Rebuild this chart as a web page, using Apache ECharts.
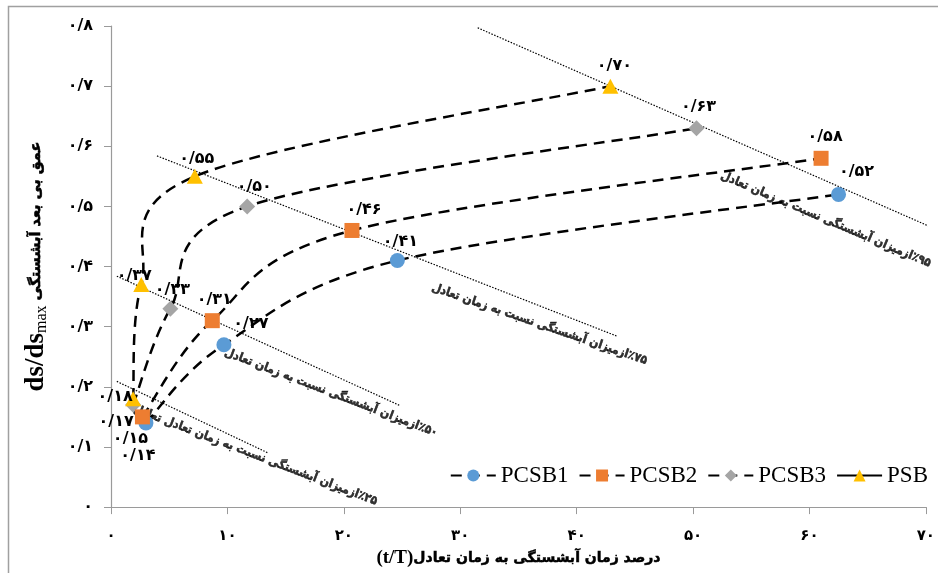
<!DOCTYPE html>
<html lang="fa">
<head>
<meta charset="UTF-8">
<title>ds/dsmax</title>
<script src="https://cdn.jsdelivr.net/npm/echarts@6/dist/echarts.min.js"></script>
</head>
<body style="margin:0">
<div id="main" style="width:938px;height:573px"></div>
<script>
// داده ها
var legendNames = ['PCSB1', 'PCSB2', 'PCSB3', 'PSB'];
var pcsb1X = [3.0, 9.7, 24.6, 62.5];
var pcsb1Y = [0.14, 0.27, 0.41, 0.52];
var pcsb2X = [2.7, 8.7, 20.7, 61.0];
var pcsb2Y = [0.15, 0.31, 0.46, 0.58];
var pcsb3X = [1.9, 5.1, 11.7, 50.3];
var pcsb3Y = [0.17, 0.33, 0.50, 0.63];
var psbX = [1.9, 2.6, 7.2, 42.9];
var psbY = [0.18, 0.37, 0.55, 0.70];

// خطوط درصد تعادل (95, 75, 50, 25)
var refPercent = ['۹۵', '۷۵', '۵۰', '۲۵'];
var refLineX = [[31.5, 70.4], [3.95, 43.5], [0.5, 24.8], [0.5, 13.5]];
var refLineY = [[0.797, 0.466], [0.584, 0.284], [0.384, 0.169], [0.209, 0.090]];
var refLabelX = [61.4, 36.8, 18.9, 12.4];
var refLabelY = [0.478, 0.304, 0.190, 0.086];
var refLabelWords = [
    'ازمیزان آبشستگی نسبت به زمان تعادل',
    'ازمیزان آبشستگی نسبت به زمان تعادل',
    'ازمیزان آبشستگی نسبت به زمان تعادل',
    'ازمیزان آبشستگی نسبت به زمان تعادل تعادل'
];

var xTicks = { min: 0, max: 70, interval: 10 };
var yTicks = { min: 0, max: 0.8, interval: 0.1 };

// layout only
var refRotate = [-23, -19, -21, -21];
var labelOffsets = {
    PCSB1: [[-8, 33], [27, -21], [3, -19], [18, -23]],
    PCSB2: [[-12, 22], [2, -21], [12, -21], [4, -21]],
    PCSB3: [[-17, 17], [2, -19], [7, -20], [2, -21]],
    PSB: [[-18, -2], [-7, -9], [2, -18], [4, -20]]
};

function fa(s) {
    return String(s).replace(/[0-9]/g, function (d) { return '۰۱۲۳۴۵۶۷۸۹'[d]; }).replace('.', '/');
}

var faFont = 'DejaVu Sans';
var faNarrow = '"DejaVu Sans Condensed", "DejaVu Sans"';

// Excel style smoothed line through pixel points
function smoothPath(pts) {
    var n = pts.length;
    var d = 'M' + pts[0][0] + ' ' + pts[0][1];
    for (var i = 0; i < n - 1; i++) {
        var p0 = pts[Math.max(i - 1, 0)], p1 = pts[i], p2 = pts[i + 1], p3 = pts[Math.min(i + 2, n - 1)];
        var c1x = p1[0] + (p2[0] - p0[0]) / 6, c1y = p1[1] + (p2[1] - p0[1]) / 6;
        var c2x = p2[0] - (p3[0] - p1[0]) / 6, c2y = p2[1] - (p3[1] - p1[1]) / 6;
        d += ' C' + c1x + ' ' + c1y + ' ' + c2x + ' ' + c2y + ' ' + p2[0] + ' ' + p2[1];
    }
    return d;
}

function curveLine(name, xs, ys) {
    return {
        name: name + ' curve',
        type: 'custom',
        coordinateSystem: 'cartesian2d',
        silent: true,
        data: [[xs[0], ys[0]]],
        renderItem: function (params, api) {
            var pts = xs.map(function (x, i) { return api.coord([x, ys[i]]); });
            return {
                type: 'path',
                shape: { pathData: smoothPath(pts) },
                style: { fill: 'none', stroke: '#000', lineWidth: 2.5, lineDash: [11, 7] }
            };
        },
        z: 2
    };
}

function markers(name, xs, ys, symbol, size, color) {
    var offs = labelOffsets[name];
    return {
        name: name,
        type: 'line',
        data: xs.map(function (x, i) {
            return { value: [x, ys[i]], label: { offset: offs[i] } };
        }),
        symbol: symbol,
        symbolSize: size,
        showAllSymbol: true,
        itemStyle: { color: color },
        lineStyle: { color: '#000', width: 2.5, type: [11, 7], opacity: 0 },
        label: {
            show: true,
            position: 'inside',
            formatter: function (p) { return fa(p.value[1].toFixed(2)); },
            fontFamily: faFont,
            fontSize: 16,
            fontWeight: 'bold',
            color: '#000'
        },
        emphasis: { disabled: true },
        z: 3
    };
}

var series = [
    curveLine('PCSB1', pcsb1X, pcsb1Y),
    curveLine('PCSB2', pcsb2X, pcsb2Y),
    curveLine('PCSB3', pcsb3X, pcsb3Y),
    curveLine('PSB', psbX, psbY),
    markers('PCSB3', pcsb3X, pcsb3Y, 'diamond', 16, '#a5a5a5'),
    markers('PCSB1', pcsb1X, pcsb1Y, 'circle', 15, '#5b9bd5'),
    markers('PCSB2', pcsb2X, pcsb2Y, 'rect', 15, '#ed7d31'),
    markers('PSB', psbX, psbY, 'triangle', [16, 15], '#ffc000')
];

refLineX.forEach(function (xs, k) {
    series.push({
        name: 'ref' + k,
        type: 'line',
        data: xs.map(function (x, i) { return [x, refLineY[k][i]]; }),
        symbol: 'none',
        clip: false,
        silent: true,
        lineStyle: { color: '#000', width: 1.2, type: [1.5, 1.5] },
        z: 1
    });
});

var boldPersian = { fontFamily: faNarrow, fontWeight: 'bold', fontSize: 12, color: '#000', textBorderColor: '#000', textBorderWidth: 0.5 };

series.push({
    name: 'refLabels',
    type: 'scatter',
    symbolSize: 0,
    silent: true,
    data: refLabelX.map(function (x, i) {
        return { value: [x, refLabelY[i]], label: { rotate: refRotate[i] } };
    }),
    label: {
        show: true,
        position: 'inside',
        formatter: function (p) {
            return '{w|' + refLabelWords[p.dataIndex] + '}{n|٪' + refPercent[p.dataIndex] + '}';
        },
        rich: { w: boldPersian, n: boldPersian }
    },
    z: 2
});

var chart = echarts.init(document.getElementById('main'));
chart.setOption({
    animation: false,
    backgroundColor: '#fff',
    graphic: [{
        type: 'rect',
        shape: { x: 8.5, y: 6.5, width: 1000, height: 1000 },
        style: { fill: 'none', stroke: '#a0a0a0', lineWidth: 1.5 },
        silent: true
    }],
    grid: { left: 111, right: 11, top: 26, bottom: 63 },
    legend: {
        data: ['PCSB1', 'PCSB2', 'PCSB3', { name: 'PSB', lineStyle: { type: 'solid' } }],
        right: 5,
        top: 459,
        itemWidth: 45,
        itemHeight: 15,
        itemGap: 10,
        selectedMode: false,
        lineStyle: { opacity: 1 },
        textStyle: { fontFamily: 'Liberation Serif', fontSize: 23, color: '#000' }
    },
    xAxis: {
        type: 'value',
        min: xTicks.min, max: xTicks.max, interval: xTicks.interval,
        name: '{e|(t/T)}{f|درصد زمان آبشستگی به زمان تعادل}',
        nameLocation: 'middle',
        nameGap: 36,
        nameTextStyle: {
            rich: {
                e: { fontFamily: 'Liberation Serif', fontWeight: 'bold', fontSize: 19, color: '#000' },
                f: { fontFamily: faFont, fontWeight: 'bold', fontSize: 14, color: '#000', textBorderColor: '#000', textBorderWidth: 0.5 }
            }
        },
        axisLine: { lineStyle: { color: '#9a9a9a', width: 1.2 } },
        axisTick: { show: true, length: 7, lineStyle: { color: '#9a9a9a' } },
        splitLine: { show: false },
        axisLabel: {
            formatter: function (v) { return fa(v); },
            fontFamily: faFont, fontWeight: 'bold', fontSize: 15, color: '#000', margin: 22
        }
    },
    yAxis: {
        type: 'value',
        min: yTicks.min, max: yTicks.max, interval: yTicks.interval,
        name: '{d|ds/ds}{s|max}{f| عمق بی بعد آبشستگی}',
        nameLocation: 'middle',
        nameRotate: 90,
        nameGap: 61,
        nameTextStyle: {
            rich: {
                d: { fontFamily: 'Liberation Serif', fontWeight: 'bold', fontSize: 27, color: '#000' },
                s: { fontFamily: 'Liberation Serif', fontSize: 16, color: '#000', verticalAlign: 'bottom', padding: [10, 0, 0, 0] },
                f: { fontFamily: faFont, fontWeight: 'bold', fontSize: 14.5, color: '#000', textBorderColor: '#000', textBorderWidth: 0.6 }
            }
        },
        axisLine: { show: true, lineStyle: { color: '#9a9a9a', width: 1.2 } },
        axisTick: { show: true, length: 7, lineStyle: { color: '#9a9a9a' } },
        splitLine: { show: false },
        axisLabel: {
            formatter: function (v) { return v === 0 ? '۰' : fa(+v.toFixed(1)); },
            fontFamily: faFont, fontWeight: 'bold', fontSize: 16, color: '#000', margin: 18
        }
    },
    series: series
});
</script>
</body>
</html>
